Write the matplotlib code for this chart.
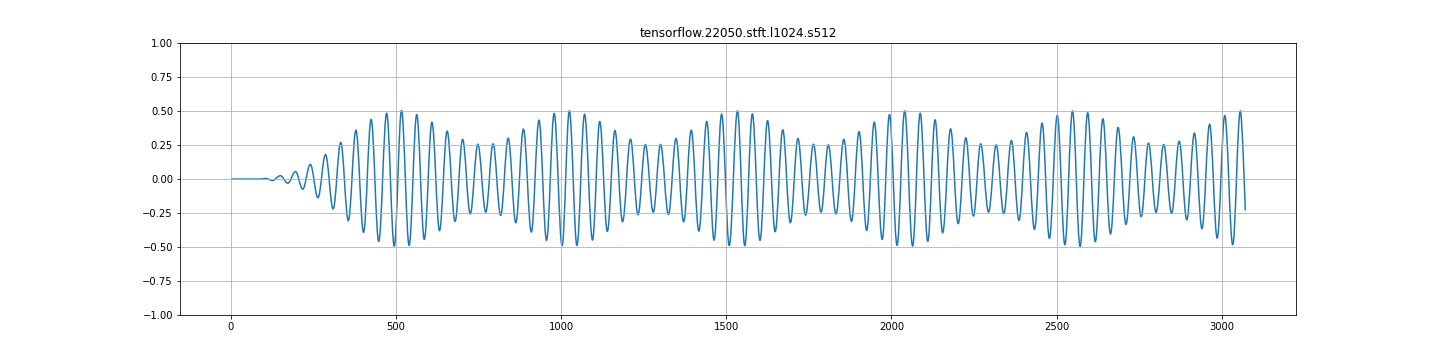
import matplotlib
matplotlib.use("Agg")
import matplotlib.pyplot as plt
from matplotlib.path import Path
from matplotlib.patches import PathPatch

# sample index of each turning point of the waveform
sample_idx = [
    0, 92, 105, 127, 150, 173, 196, 218, 241, 264, 287, 310, 333, 356, 379, 402,
    425, 448, 472, 495, 517, 540, 563, 586, 609, 632, 655, 679, 702, 725, 748, 772,
    794, 817, 840, 863, 886, 910, 933, 956, 979, 1003, 1025, 1048, 1071, 1095, 1117, 1140,
    1163, 1186, 1210, 1233, 1255, 1279, 1301, 1325, 1348, 1371, 1394, 1417, 1441, 1463,
    1486, 1509, 1534, 1556, 1579, 1602, 1625, 1648, 1671, 1694, 1717, 1740, 1764, 1787,
    1809, 1832, 1856, 1879, 1902, 1925, 1948, 1972, 1994, 2017, 2040, 2064, 2087, 2110,
    2132, 2155, 2179, 2202, 2225, 2248, 2270, 2294, 2317, 2340, 2363, 2386, 2409, 2433,
    2456, 2478, 2502, 2525, 2548, 2571, 2594, 2617, 2640, 2663, 2686, 2710, 2733, 2756,
    2778, 2801, 2824, 2848, 2871, 2894, 2917, 2940, 2963, 2986, 3009, 3033, 3056, 3071,
]

# amplitude at those turning points
amplitude = [
    0.0, 0.0, 0.005, -0.01, 0.025, -0.03, 0.056, -0.074, 0.108, -0.137, 0.181, -0.22,
    0.27, -0.306, 0.36, -0.392,
    0.439, -0.458, 0.485, -0.493, 0.505, -0.488, 0.475, -0.444, 0.419, -0.38, 0.353, -0.311,
    0.292, -0.257, 0.257, -0.243,
    0.26, -0.267, 0.301, -0.321, 0.368, -0.39, 0.434, -0.451, 0.483, -0.49, 0.502, -0.488,
    0.478, -0.449, 0.424, -0.385,
    0.358, -0.314, 0.294, -0.262, 0.255, -0.243, 0.255, -0.26, 0.299, -0.314, 0.36, -0.382,
    0.424, -0.449,
    0.478, -0.489, 0.502, -0.49, 0.48, -0.451, 0.431, -0.387, 0.363, -0.321, 0.299, -0.265,
    0.257, -0.243,
    0.252, -0.257, 0.292, -0.311, 0.35, -0.377, 0.419, -0.444, 0.475, -0.488, 0.502, -0.493,
    0.485, -0.458,
    0.436, -0.395, 0.37, -0.328, 0.304, -0.272, 0.26, -0.243, 0.252, -0.255, 0.284, -0.304,
    0.343, -0.37,
    0.412, -0.436, 0.47, -0.483, 0.502, -0.495, 0.488, -0.461, 0.444, -0.404, 0.38, -0.333,
    0.311, -0.277,
    0.265, -0.245, 0.255, -0.252, 0.279, -0.299, 0.338, -0.365, 0.404, -0.434, 0.468, -0.483,
    0.502, -0.23,
]

title = "tensorflow.22050.stft.l1024.s512"


def wave_path(xs, ys, k=0.3642):
    # smooth bezier through the turning points, flat tangent at each of them
    verts = [(xs[0], ys[0])]
    codes = [Path.MOVETO]
    last = len(xs) - 1
    for i in range(last):
        x0, y0, x1, y1 = xs[i], ys[i], xs[i + 1], ys[i + 1]
        h = x1 - x0
        c2 = (x1 - k * h, y1) if i + 1 < last else (x1, y1)
        verts += [(x0 + k * h, y0), c2, (x1, y1)]
        codes += [Path.CURVE4] * 3
    return Path(verts, codes)


fig = plt.figure(figsize=(20, 5), dpi=72)
fig.subplots_adjust(left=0.125, right=0.9, bottom=0.125, top=0.88)
ax = fig.add_subplot(111)
ax.add_patch(PathPatch(wave_path(sample_idx, amplitude), fill=False,
                       edgecolor="#1f77b4", linewidth=1.5, joinstyle="round"))
ax.autoscale_view()
ax.set_ylim(-1, 1)
ax.set_title(title)
ax.grid(True)

plt.savefig("out.png", dpi=72)
